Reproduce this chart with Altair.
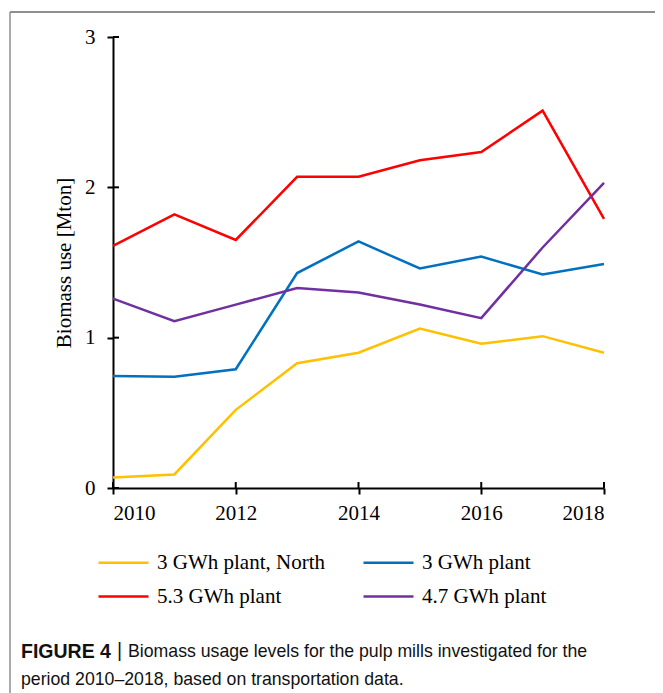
import altair as alt
import pandas as pd

years = [2010, 2011, 2012, 2013, 2014, 2015, 2016, 2017, 2018]
series_names = ["3 GWh plant, North", "3 GWh plant", "5.3 GWh plant", "4.7 GWh plant"]
north_3gwh = [0.07, 0.09, 0.52, 0.83, 0.90, 1.06, 0.96, 1.01, 0.90]
plant_3gwh = [0.745, 0.74, 0.79, 1.43, 1.64, 1.46, 1.54, 1.42, 1.49]
plant_53gwh = [1.61, 1.82, 1.65, 2.07, 2.07, 2.18, 2.235, 2.51, 1.79]
plant_47gwh = [1.26, 1.11, 1.22, 1.33, 1.30, 1.22, 1.13, 1.60, 2.03]
colors = ["#FFC000", "#0070C0", "#FF0000", "#7030A0"]
legend_order = ["3 GWh plant, North", "5.3 GWh plant", "3 GWh plant", "4.7 GWh plant"]
y_ticks = [0, 1, 2, 3]
x_ticks = [2010, 2012, 2014, 2016, 2018]

rows = []
for name, vals in zip(series_names, [north_3gwh, plant_3gwh, plant_53gwh, plant_47gwh]):
    for yr, v in zip(years, vals):
        rows.append({"year": yr, "value": v, "series": name})
df = pd.DataFrame(rows)

color_of = dict(zip(series_names, colors))

W, H = 491, 451
SERIF = "Liberation Serif"
SANS = "Liberation Sans"
FS = 21

xscale = alt.Scale(domain=[2010, 2018], nice=False, zero=False)
yscale = alt.Scale(domain=[0, 3], nice=False)

lines = alt.Chart(df).mark_line(strokeWidth=2.5).encode(
    x=alt.X("year:Q", scale=xscale,
            axis=alt.Axis(values=x_ticks, format="d", title=None, grid=False,
                          labelFont=SERIF, labelFontSize=FS, labelColor="black",
                          domainColor="black", domainWidth=2, tickColor="black",
                          tickWidth=2, tickSize=6, labelPadding=8)),
    y=alt.Y("value:Q", scale=yscale,
            axis=alt.Axis(values=y_ticks, format="d", title="Biomass use [Mton]", grid=False,
                          labelFont=SERIF, labelFontSize=FS, labelColor="black",
                          titleFont=SERIF, titleFontSize=FS, titleFontWeight="normal",
                          titleColor="black", titlePadding=10,
                          domainColor="black", domainWidth=2, tickColor="black",
                          tickWidth=2, tickSize=6, labelPadding=12)),
    color=alt.Color("series:N",
                    scale=alt.Scale(domain=legend_order, range=[color_of[s] for s in legend_order]),
                    legend=alt.Legend(title=None, orient="none", legendX=0, legendY=515,
                                      columns=2, symbolType="M-5,0L5,0", symbolSize=100,
                                      symbolStrokeWidth=2.5, labelFont=SERIF,
                                      labelFontSize=FS, labelColor="black",
                                      labelOffset=23, columnPadding=33, rowPadding=12,
                                      labelLimit=300)),
    order="year:Q",
)

# inner halves of the crossing tick marks
ytick_df = pd.DataFrame({"v": y_ticks})
yticks_in = alt.Chart(ytick_df).mark_rule(color="black", strokeWidth=2).encode(
    y=alt.Y("v:Q", scale=yscale), x=alt.value(0), x2=alt.value(6))
xtick_df = pd.DataFrame({"v": x_ticks})
xticks_in = alt.Chart(xtick_df).mark_rule(color="black", strokeWidth=2).encode(
    x=alt.X("v:Q", scale=xscale), y=alt.value(H), y2=alt.value(H - 6))

# frame
frame_color = "#8f8f8f"
one = pd.DataFrame({"a": [0]})
frame_top = alt.Chart(one).mark_rule(color=frame_color, strokeWidth=2).encode(
    x=alt.value(-103), x2=alt.value(550), y=alt.value(-25))
frame_left = alt.Chart(one).mark_rule(color=frame_color, strokeWidth=1.5).encode(
    x=alt.value(-103), y=alt.value(-25), y2=alt.value(680))
frame_right = alt.Chart(one).mark_rule(color=frame_color, strokeWidth=1.5).encode(
    x=alt.value(550), y=alt.value(-25), y2=alt.value(680))

CFS = 17.7
cap_bold = alt.Chart(pd.DataFrame({"t": ["FIGURE 4"]})).mark_text(
    font=SANS, fontSize=19.5, fontWeight="bold", align="left", baseline="middle", color="#111").encode(
    text="t:N", x=alt.value(-92), y=alt.value(615))
cap_bar = alt.Chart(pd.DataFrame({"t": ["|"]})).mark_text(
    font=SANS, fontSize=19.5, align="left", baseline="middle", color="#111").encode(
    text="t:N", x=alt.value(4), y=alt.value(614))
cap_1 = alt.Chart(pd.DataFrame({"t": ["Biomass usage levels for the pulp mills investigated for the"]})).mark_text(
    font=SANS, fontSize=CFS, align="left", baseline="middle", color="#111").encode(
    text="t:N", x=alt.value(15), y=alt.value(615))
cap_2 = alt.Chart(pd.DataFrame({"t": ["period 2010\u20132018, based on transportation data."]})).mark_text(
    font=SANS, fontSize=CFS, align="left", baseline="middle", color="#111").encode(
    text="t:N", x=alt.value(-92), y=alt.value(643))

chart = alt.layer(frame_top, frame_left, frame_right, lines, yticks_in, xticks_in,
                  cap_bold, cap_bar, cap_1, cap_2).properties(
    width=W, height=H,
    autosize=alt.AutoSizeParams(type="none"),
    padding={"left": 105, "top": 29, "right": 51, "bottom": 215},
    background="white",
).configure_view(stroke=None)

chart.save("out.html", embed_options={"renderer": "svg", "actions": False})
